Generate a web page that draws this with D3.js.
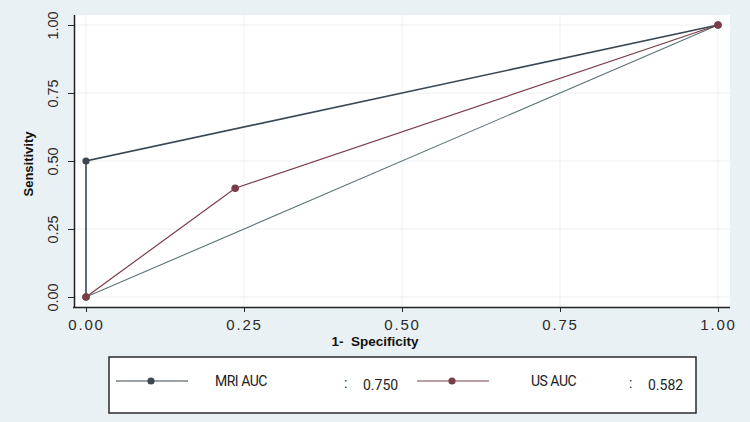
<!DOCTYPE html>
<html><head><meta charset="utf-8">
<script src="https://cdn.jsdelivr.net/npm/d3@7"></script>
<style>html,body{margin:0;padding:0;background:#eaf1f4;}svg{display:block;}</style>
</head><body>
<svg id="c" width="750" height="422"></svg>
<script>
const xTicks = [0, 0.25, 0.5, 0.75, 1];
const yTicks = [0, 0.25, 0.5, 0.75, 1];
const tickLabels = ["0.00", "0.25", "0.50", "0.75", "1.00"];
const mriX = [0, 0, 1];
const mriY = [0, 0.5, 1];
const usX = [0, 0.236, 1];
const usY = [0, 0.4, 1];
const refX = [0, 1];
const refY = [0, 1];
const legendNames = ["MRI AUC", "US AUC"];
const legendAUC = ["0.750", "0.582"];

const mriColor = "#3b4853", usColor = "#7a3c47", refColor = "#5e7278";
const svg = d3.select("#c");
const x = d3.scaleLinear().domain([0, 1]).range([86, 718]);
const y = d3.scaleLinear().domain([0, 1]).range([297, 25]);

// plot region
svg.append("rect").attr("x", 74).attr("y", 15).attr("width", 656).attr("height", 292).attr("fill", "#ffffff");
// grid
svg.append("g").selectAll("line").data(xTicks).join("line")
  .attr("x1", d => x(d)).attr("x2", d => x(d)).attr("y1", 15).attr("y2", 307)
  .attr("stroke", "#edf0f2").attr("stroke-width", 1);
svg.append("g").selectAll("line").data(yTicks).join("line")
  .attr("y1", d => y(d)).attr("y2", d => y(d)).attr("x1", 74).attr("x2", 730)
  .attr("stroke", "#edf0f2").attr("stroke-width", 1);

// axes
const xAxis = d3.axisBottom(x).tickValues(xTicks).tickFormat((d, i) => tickLabels[i]).tickSize(5).tickPadding(7);
const gx = svg.append("g").attr("transform", "translate(0,307)").call(xAxis);
gx.select(".domain").attr("d", "M73,0.5H730").attr("stroke", "#222").attr("stroke-width", 1.5);
gx.selectAll(".tick line").attr("stroke", "#222");
gx.selectAll(".tick text").attr("font-family", "Liberation Sans, Arial, sans-serif")
  .attr("font-size", 15).attr("letter-spacing", "1.8px").attr("fill", "#2a2a2a");

const yAxis = d3.axisLeft(y).tickValues(yTicks).tickFormat((d, i) => tickLabels[i]).tickSize(6).tickPadding(0);
const gy = svg.append("g").attr("transform", "translate(74,0)").call(yAxis);
gy.select(".domain").attr("d", "M0.5,15V308").attr("stroke", "#222").attr("stroke-width", 1.5);
gy.selectAll(".tick line").attr("stroke", "#222");
gy.selectAll(".tick text").attr("font-family", "Liberation Sans, Arial, sans-serif")
  .attr("font-size", 14.5).attr("fill", "#2a2a2a")
  .attr("transform", "rotate(-90)").attr("x", 0).attr("y", -16).attr("dy", 0)
  .attr("text-anchor", "middle");

// axis titles
svg.append("text").attr("transform", "translate(33,164) rotate(-90)")
  .attr("text-anchor", "middle").attr("font-family", "Liberation Sans, Arial, sans-serif")
  .attr("font-weight", "bold").attr("font-size", 13).attr("fill", "#111").text("Sensitivity");
svg.append("text").attr("x", 375).attr("y", 346).attr("text-anchor", "middle")
  .attr("font-family", "Liberation Sans, Arial, sans-serif").attr("font-weight", "bold")
  .attr("font-size", 13.5).attr("fill", "#111").style("white-space", "pre").text("1-  Specificity");

// lines
const line = d3.line().x(d => x(d[0])).y(d => y(d[1]));
const refPts = refX.map((v, i) => [v, refY[i]]);
const mriPts = mriX.map((v, i) => [v, mriY[i]]);
const usPts = usX.map((v, i) => [v, usY[i]]);
svg.append("path").attr("d", line(refPts)).attr("fill", "none").attr("stroke", refColor).attr("stroke-width", 1.1);
svg.append("path").attr("d", line(mriPts)).attr("fill", "none").attr("stroke", mriColor).attr("stroke-width", 1.6);
svg.append("path").attr("d", line(usPts)).attr("fill", "none").attr("stroke", usColor).attr("stroke-width", 1.2);
svg.append("g").selectAll("circle").data(mriPts).join("circle")
  .attr("cx", d => x(d[0])).attr("cy", d => y(d[1])).attr("r", 3.6).attr("fill", mriColor);
svg.append("g").selectAll("circle").data(usPts).join("circle")
  .attr("cx", d => x(d[0])).attr("cy", d => y(d[1])).attr("r", 3.8).attr("fill", usColor);

// legend
svg.append("rect").attr("x", 109).attr("y", 357).attr("width", 587).attr("height", 56)
  .attr("fill", "#ffffff").attr("stroke", "#2a2a2a").attr("stroke-width", 1.5);
const legLineX = [116, 417];
const legNameX = [215, 531];
const legColonX = [344, 629];
const legValX = [363, 648];
const legColors = [mriColor, usColor];
legendNames.forEach((name, i) => {
  const lx = legLineX[i];
  svg.append("line").attr("x1", lx).attr("x2", lx + 72).attr("y1", 381).attr("y2", 381)
    .attr("stroke", legColors[i]).attr("stroke-width", 1.2);
  svg.append("circle").attr("cx", lx + 35).attr("cy", 381).attr("r", 3.6).attr("fill", legColors[i]);
  svg.append("text").attr("x", legNameX[i]).attr("y", 386).attr("font-family", "Roboto, sans-serif")
    .attr("font-size", 14).attr("letter-spacing", "-0.5px").attr("fill", "#222").text(name);
  svg.append("text").attr("x", legColonX[i]).attr("y", 388).attr("font-family", "Roboto, sans-serif")
    .attr("font-size", 14).attr("fill", "#222").text(":");
  svg.append("text").attr("x", legValX[i]).attr("y", 390).attr("font-family", "Roboto, sans-serif")
    .attr("font-size", 14).attr("fill", "#222").text(legendAUC[i]);
});
</script>
</body></html>
